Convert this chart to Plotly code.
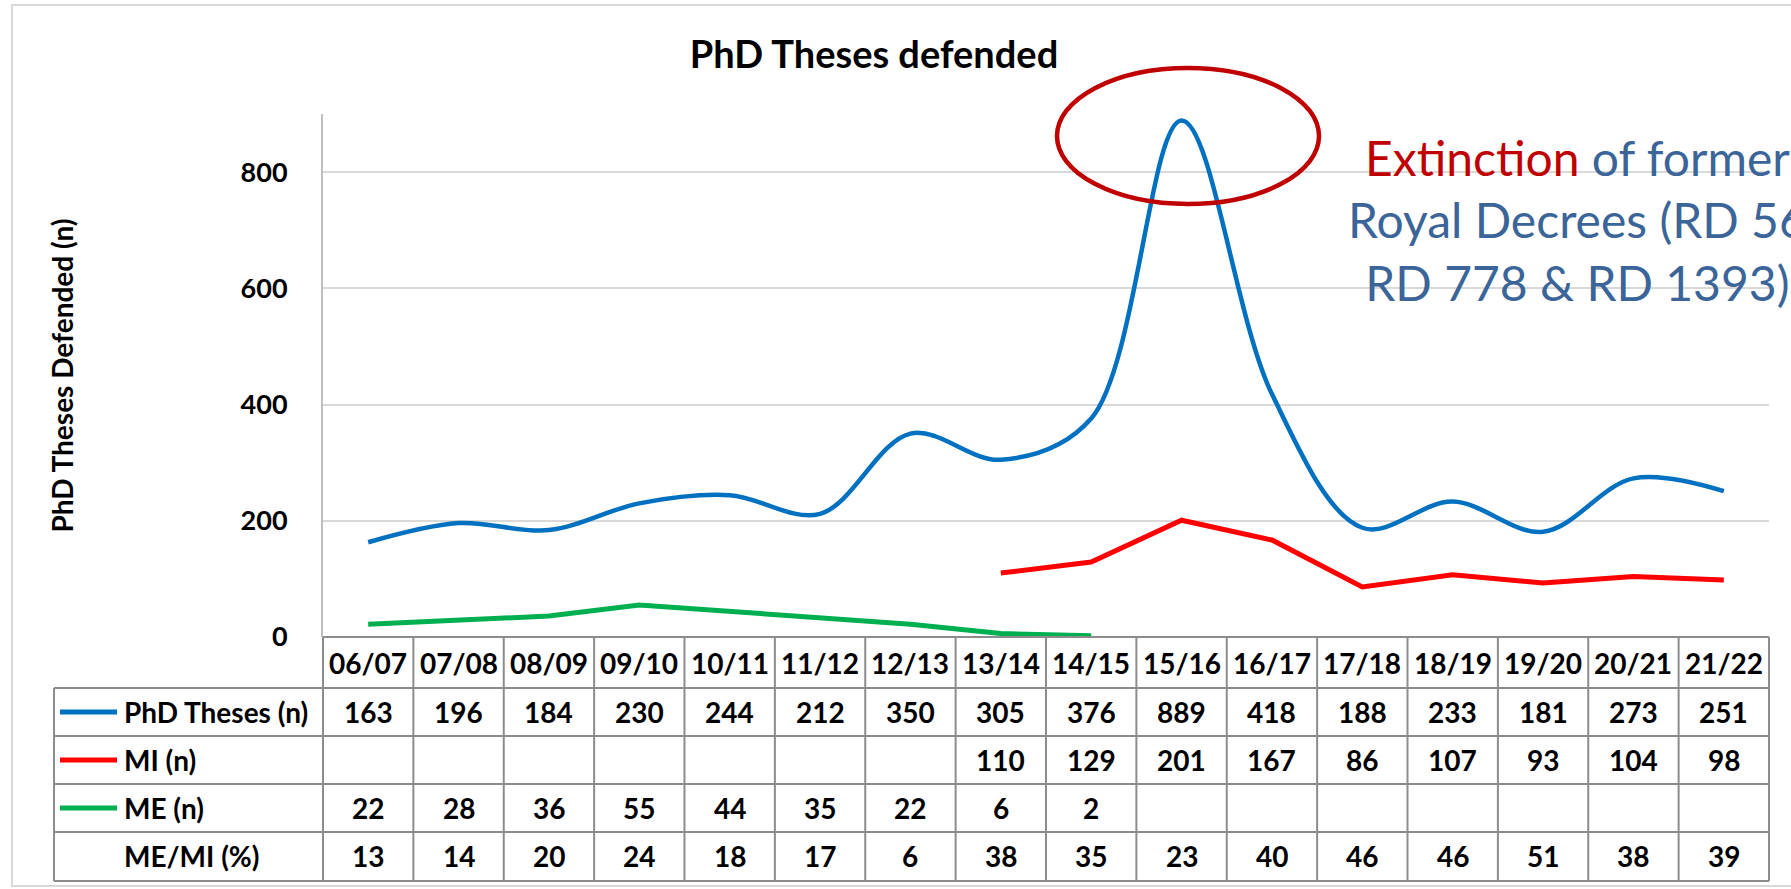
import plotly.graph_objects as go

# academic years (table header / x categories)
years = ['06/07', '07/08', '08/09', '09/10', '10/11', '11/12', '12/13', '13/14',
         '14/15', '15/16', '16/17', '17/18', '18/19', '19/20', '20/21', '21/22']
phd_theses = [163, 196, 184, 230, 244, 212, 350, 305, 376, 889, 418, 188, 233, 181, 273, 251]
mi = [None, None, None, None, None, None, None, 110, 129, 201, 167, 86, 107, 93, 104, 98]
me = [22, 28, 36, 55, 44, 35, 22, 6, 2, None, None, None, None, None, None, None]
me_mi_pct = [13, 14, 20, 24, 18, 17, 6, 38, 35, 23, 40, 46, 46, 51, 38, 39]
y_ticks = [0, 200, 400, 600, 800]

BLUE, RED, GREEN = '#0070C0', '#FF0000', '#00B050'
FONT = 'Lato'

# figure / plot area in pixels
W, H = 1791, 889
L, R, T, B = 323, 1769, 114, 637


def px_x(p):
    return (p - L) / (R - L)


def px_y(p):
    return (B - p) / (B - T)


fig = go.Figure()
fig.add_trace(go.Scatter(x=years, y=phd_theses, mode='lines', name='PhD Theses (n)',
                         line=dict(color=BLUE, width=4.5, shape='spline', smoothing=1)))
fig.add_trace(go.Scatter(x=years, y=mi, mode='lines', name='MI (n)',
                         line=dict(color=RED, width=5)))
fig.add_trace(go.Scatter(x=years, y=me, mode='lines', name='ME (n)',
                         line=dict(color=GREEN, width=5)))

fig.update_layout(
    width=W, height=H,
    margin=dict(l=L, r=W - R, t=T, b=H - B),
    paper_bgcolor='white', plot_bgcolor='white',
    showlegend=False,
    font=dict(family=FONT, color='black'),
    title=dict(text='PhD Theses defended', x=874 / W, xanchor='center', xref='container',
               y=1 - 55 / H, yanchor='middle', yref='container',
               font=dict(family=FONT, size=38, weight='bold', color='black')),
)
fig.update_xaxes(range=[-0.5, len(years) - 0.5], showticklabels=False, showgrid=False,
                 zeroline=False, showline=False)
fig.update_yaxes(range=[0, 900], tickvals=y_ticks, showgrid=True, gridcolor='#d9d9d9',
                 gridwidth=2, zeroline=False, showline=True, linecolor='#bfbfbf', linewidth=2,
                 ticklabelstandoff=28, tickfont=dict(family=FONT, size=27, weight='bold'))

shapes = []
grid = dict(color='#8c8c8c', width=2)

# chart border
shapes.append(dict(type='rect', xref='paper', yref='paper', x0=px_x(12), x1=px_x(1800),
                   y0=px_y(886), y1=px_y(5), line=dict(color='#d9d9d9', width=2), layer='below'))

# data table grid
row_lines = [688, 736, 784, 832, 881]
col_w = (R - L) / len(years)
shapes.append(dict(type='line', xref='paper', yref='paper', x0=0, x1=1,
                   y0=px_y(B), y1=px_y(B), line=grid))
for r in row_lines:
    shapes.append(dict(type='line', xref='paper', yref='paper', x0=px_x(54), x1=1,
                       y0=px_y(r), y1=px_y(r), line=grid))
for k in range(len(years) + 1):
    xx = px_x(L + k * col_w)
    shapes.append(dict(type='line', xref='paper', yref='paper', x0=xx, x1=xx,
                       y0=px_y(B), y1=px_y(881), line=grid))
shapes.append(dict(type='line', xref='paper', yref='paper', x0=px_x(54), x1=px_x(54),
                   y0=px_y(688), y1=px_y(881), line=grid))

# highlight ellipse around the peak
shapes.append(dict(type='circle', xref='paper', yref='paper', x0=px_x(1057), x1=px_x(1319),
                   y0=px_y(204), y1=px_y(68), line=dict(color='#C00000', width=4.5)))

annotations = []
header_y = 663
row_y = [712, 760, 808, 856]
tfont = dict(family=FONT, size=28, weight='bold', color='black')

for yr in years:
    annotations.append(dict(x=yr, xref='x', y=px_y(header_y), yref='paper', text=yr,
                            xanchor='center', yanchor='middle', showarrow=False, font=tfont))

rows = [('PhD Theses (n)', phd_theses, BLUE), ('MI (n)', mi, RED),
        ('ME (n)', me, GREEN), ('ME/MI (%)', me_mi_pct, None)]
for (label, vals, col), ry in zip(rows, row_y):
    annotations.append(dict(x=px_x(122), xref='paper', y=px_y(ry), yref='paper', text=label,
                            xanchor='left', yanchor='middle', showarrow=False, font=tfont))
    if col:
        shapes.append(dict(type='line', xref='paper', yref='paper', x0=px_x(60), x1=px_x(117),
                           y0=px_y(ry), y1=px_y(ry), line=dict(color=col, width=5)))
    for yr, v in zip(years, vals):
        if v is not None:
            annotations.append(dict(x=yr, xref='x', y=px_y(ry), yref='paper', text=str(v),
                                    xanchor='center', yanchor='middle', showarrow=False,
                                    font=tfont))

# y axis title
annotations.append(dict(x=px_x(61), xref='paper', y=0.5, yref='paper',
                        xanchor='center', yanchor='middle',
                        text='PhD Theses Defended (n)', textangle=-90, showarrow=False,
                        font=dict(family=FONT, size=28, weight='bold', color='black')))

# note on the right (runs off the right edge, as in the source slide)
annotations.append(dict(x=px_x(1577), xref='paper', y=px_y(220), yref='paper',
                        xanchor='center', yanchor='middle', align='center', showarrow=False,
                        text="<span style='color:#C00000'>Extinction</span> of former<br>"
                             "Royal Decrees (RD 56<br>RD 778 &amp; RD 1393)",
                        font=dict(family=FONT, size=48, color='#3B6598')))

fig.update_layout(shapes=shapes, annotations=annotations)
fig.write_html("out.html", config={'displayModeBar': False},
               post_script="document.body.style.margin = '0';")
